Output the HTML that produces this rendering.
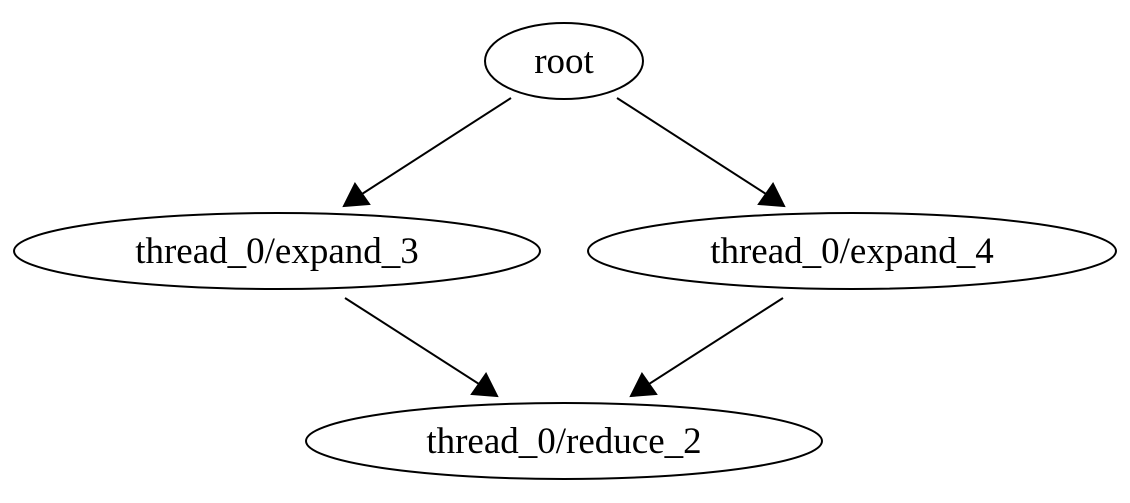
<!DOCTYPE html>
<html><head><style>html,body{margin:0;padding:0;background:#fff}</style></head>
<body>
<svg width="1130" height="498" viewBox="0 0 1130 498" xmlns="http://www.w3.org/2000/svg" font-family="Liberation Serif, serif" font-size="37">
<g fill="none" stroke="#000" stroke-width="2">
<ellipse cx="564" cy="61" rx="79" ry="38"/>
<ellipse cx="277" cy="251" rx="263" ry="38"/>
<ellipse cx="852" cy="251" rx="264" ry="38"/>
<ellipse cx="564" cy="441" rx="258" ry="38"/>
<line x1="511" y1="98" x2="362" y2="194"/>
<line x1="617" y1="98" x2="766" y2="194"/>
<line x1="345" y1="298" x2="479" y2="384"/>
<line x1="783" y1="298" x2="649" y2="384"/>
</g>
<g fill="#000" stroke="#000" stroke-width="2">
<polygon points="344,206 355,184 369,204"/>
<polygon points="784,206 759,204 773,184"/>
<polygon points="497,396 472,394 486,374"/>
<polygon points="631,396 642,374 656,394"/>
</g>
<g text-anchor="middle" fill="#000">
<text x="564" y="73">root</text>
<text x="277" y="263">thread_0/expand_3</text>
<text x="852" y="263">thread_0/expand_4</text>
<text x="564" y="453">thread_0/reduce_2</text>
</g>
</svg>
</body></html>
